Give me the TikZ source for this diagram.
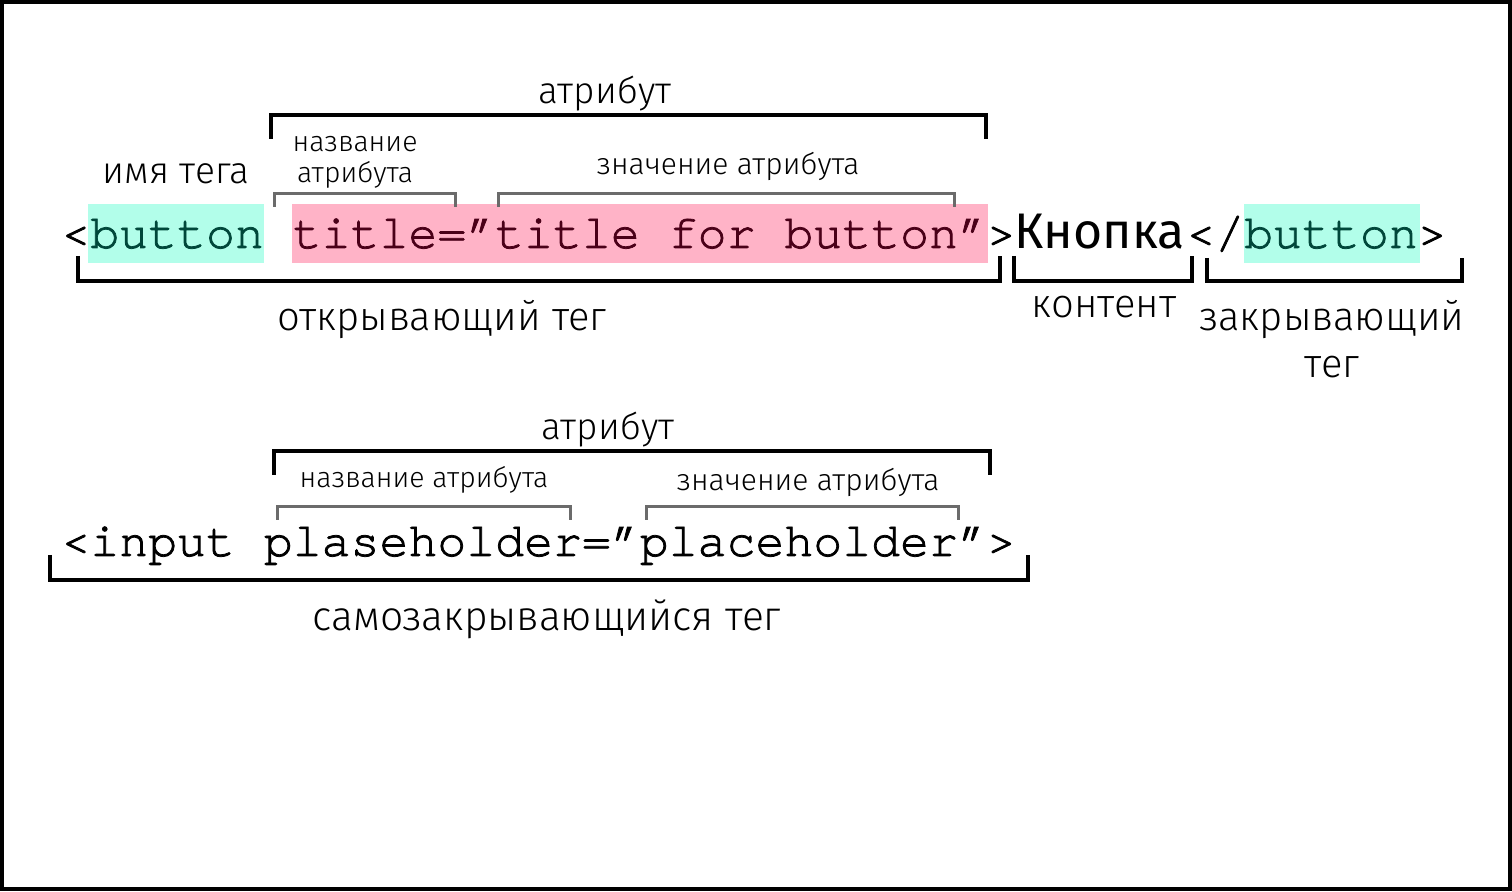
\documentclass[tikz,border=0pt]{standalone}
\usepackage{fontspec}
\setmainfont{Fira Sans Light}
\newfontfamily\knopfont{Fira Sans}
\newfontfamily\monofont{texgyrecursor-regular.otf}[FakeBold=1.6]
\definecolor{cyanbg}{HTML}{B2FEEA}
\definecolor{cyantx}{HTML}{00473A}
\definecolor{pinkbg}{HTML}{FFB3C7}
\definecolor{pinktx}{HTML}{4A0018}
\definecolor{greybr}{HTML}{6B6B6B}
\begin{document}
\begin{tikzpicture}[x=0.5pt,y=-0.5pt,
  code/.style={inner sep=0pt,anchor=base west,font=\monofont\fontsize{24.1pt}{24pt}\selectfont},
  knop/.style={inner sep=0pt,anchor=base west,font=\knopfont\fontsize{25pt}{25pt}\selectfont},
  biglab/.style={inner sep=0pt,anchor=base,font=\fontsize{20pt}{21pt}\selectfont},
  smalllab/.style={inner sep=0pt,anchor=base,font=\fontsize{15pt}{16pt}\selectfont},
  blackbr/.style={draw=black,line width=2pt},
  greybrk/.style={draw=greybr,line width=1.5pt}]
\useasboundingbox (0,0) rectangle (1512,892);
\draw[line width=2pt] (2,2) rectangle (1510,889.5);
% highlight boxes
\fill[cyanbg] (88,204) rectangle (264,263);
\fill[pinkbg] (292,204) rectangle (988,263);
\fill[cyanbg] (1244,204) rectangle (1420,263);
% line 1
\node[code] (open) at (61,248) {<\textcolor{cyantx}{button} \textcolor{pinktx}{title=”title for button”}>};
\node[knop] (cont) at (1014,249) {Кнопка};
\node[code] (close) at (1186,248) {</\textcolor{cyantx}{button}>};
% line 2
\node[code] (self) at (61,556) {<input plaseholder=”placeholder”>};
% brackets line 1
\draw[blackbr] (271,139) -- (271,115) -- (986,115) -- (986,139);
\draw[greybrk] (274,207) -- (274,194) -- (455,194) -- (455,207);
\draw[greybrk] (498,207) -- (498,194) -- (954,194) -- (954,207);
\draw[blackbr] (78,256) -- (78,281) -- (1000,281) -- (1000,256);
\draw[blackbr] (1014,256) -- (1014,281) -- (1192,281) -- (1192,256);
\draw[blackbr] (1207,258) -- (1207,281) -- (1462,281) -- (1462,258);
% brackets line 2
\draw[blackbr] (274,475) -- (274,451) -- (990,451) -- (990,475);
\draw[greybrk] (277,520) -- (277,507) -- (570,507) -- (570,520);
\draw[greybrk] (646,520) -- (646,507) -- (958,507) -- (958,520);
\draw[blackbr] (50,555) -- (50,580) -- (1028,580) -- (1028,555);
% labels line 1
\node[biglab,font=\fontsize{18.5pt}{20pt}\selectfont] (attr1) at (605,104) {атрибут};
\node[smalllab,font=\fontsize{14.2pt}{16pt}\selectfont] (nm1a) at (355,152) {название};
\node[smalllab,font=\fontsize{14.2pt}{16pt}\selectfont] (nm1b) at (355,183) {атрибута};
\node[biglab,font=\fontsize{18.6pt}{20pt}\selectfont] (tagname) at (176,184) {имя тега};
\node[smalllab] (val1) at (728,175) {значение атрибута};
\node[biglab] (opl) at (442,331) {открывающий тег};
\node[biglab] (conl) at (1104,318) {контент};
\node[biglab] (cla) at (1332,331) {закрывающий};
\node[biglab] (clb) at (1332,378) {тег};
% labels line 2
\node[biglab,font=\fontsize{18.5pt}{20pt}\selectfont] (attr2) at (608,440) {атрибут};
\node[smalllab,font=\fontsize{14.2pt}{16pt}\selectfont] (nm2) at (424,488) {название атрибута};
\node[smalllab] (val2) at (808,491) {значение атрибута};
\node[biglab,font=\fontsize{20.4pt}{21pt}\selectfont] (sel) at (547,631) {самозакрывающийся тег};
\end{tikzpicture}
\end{document}
